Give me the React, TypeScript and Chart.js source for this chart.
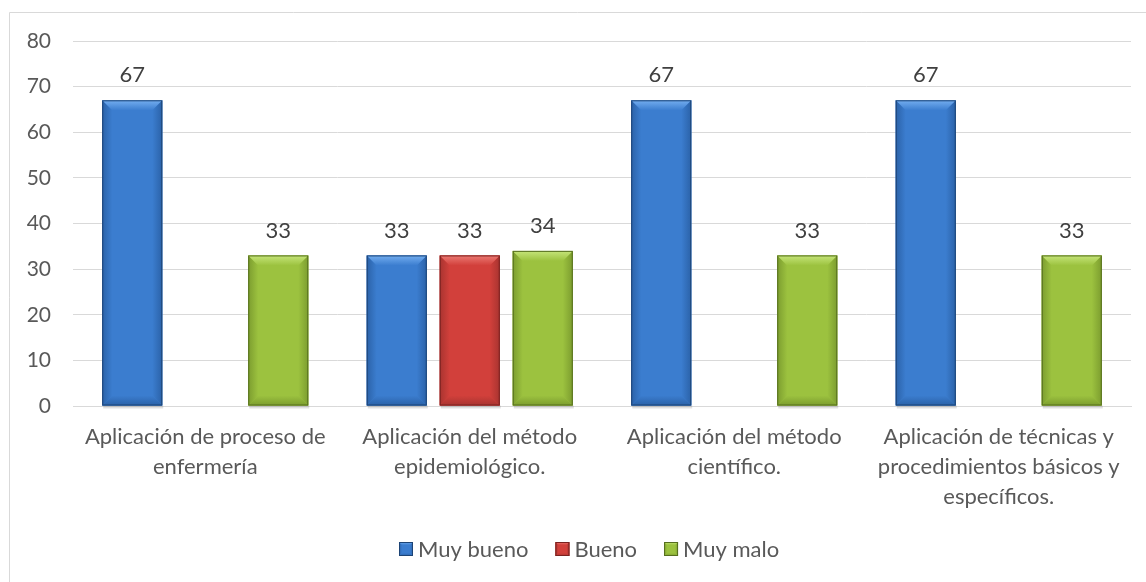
import React, { useEffect, useRef } from 'react';
import { Chart, registerables } from 'chart.js';

Chart.register(...registerables);

const categories: string[][] = [
  ['Aplicación de proceso de', 'enfermería'],
  ['Aplicación del método', 'epidemiológico.'],
  ['Aplicación del método', 'científico.'],
  ['Aplicación de técnicas y', 'procedimientos básicos y', 'específicos.'],
];
const seriesNames = ['Muy bueno', 'Bueno', 'Muy malo'];
const muyBueno: (number | null)[] = [67, 33, 67, 67];
const bueno: (number | null)[] = [null, 33, null, null];
const muyMalo: (number | null)[] = [33, 34, 33, 33];
const yMin = 0;
const yMax = 80;
const yStep = 10;

const FONT = 'Lato, "Open Sans", sans-serif';

const palettes = [
  { main: '#3b7dcf', light: '#74aef0', dark: '#2b62a8', edge: '#1d4475' },
  { main: '#d2403b', light: '#ec7a74', dark: '#a83430', edge: '#7a2220' },
  { main: '#9cc23f', light: '#c6e57a', dark: '#7c9d2f', edge: '#566e1f' },
];

const framePlugin = {
  id: 'frame',
  beforeDraw(chart: any) {
    const ctx = chart.ctx;
    ctx.save();
    ctx.fillStyle = '#ffffff';
    ctx.fillRect(0, 0, chart.width, chart.height);
    ctx.strokeStyle = '#d9d9d9';
    ctx.lineWidth = 1;
    ctx.beginPath();
    ctx.moveTo(9.5, chart.height);
    ctx.lineTo(9.5, 12.5);
    ctx.lineTo(chart.width, 12.5);
    ctx.stroke();
    ctx.restore();
  },
};

function bevelRect(ctx: any, l: number, t: number, w: number, h: number, pal: any, bw: number) {
  const r = l + w;
  const b = t + h;
  ctx.fillStyle = pal.main;
  ctx.fillRect(l, t, w, h);
  // left strip
  let g = ctx.createLinearGradient(l, 0, l + bw, 0);
  g.addColorStop(0, pal.dark);
  g.addColorStop(1, pal.main);
  ctx.fillStyle = g;
  ctx.beginPath();
  ctx.moveTo(l, t);
  ctx.lineTo(l + bw, t + bw);
  ctx.lineTo(l + bw, b - bw);
  ctx.lineTo(l, b);
  ctx.closePath();
  ctx.fill();
  // right strip
  g = ctx.createLinearGradient(r, 0, r - bw, 0);
  g.addColorStop(0, pal.dark);
  g.addColorStop(1, pal.main);
  ctx.fillStyle = g;
  ctx.beginPath();
  ctx.moveTo(r, t);
  ctx.lineTo(r - bw, t + bw);
  ctx.lineTo(r - bw, b - bw);
  ctx.lineTo(r, b);
  ctx.closePath();
  ctx.fill();
  // bottom strip
  g = ctx.createLinearGradient(0, b, 0, b - bw);
  g.addColorStop(0, pal.dark);
  g.addColorStop(1, pal.main);
  ctx.fillStyle = g;
  ctx.beginPath();
  ctx.moveTo(l, b);
  ctx.lineTo(l + bw, b - bw);
  ctx.lineTo(r - bw, b - bw);
  ctx.lineTo(r, b);
  ctx.closePath();
  ctx.fill();
  // top strip (light)
  g = ctx.createLinearGradient(0, t, 0, t + bw);
  g.addColorStop(0, pal.light);
  g.addColorStop(1, pal.main);
  ctx.fillStyle = g;
  ctx.beginPath();
  ctx.moveTo(l, t);
  ctx.lineTo(r, t);
  ctx.lineTo(r - bw, t + bw);
  ctx.lineTo(l + bw, t + bw);
  ctx.closePath();
  ctx.fill();
  // outline
  ctx.strokeStyle = pal.edge;
  ctx.lineWidth = 1;
  ctx.strokeRect(l + 0.5, t + 0.5, w - 1, h - 1);
}

const bevelPlugin = {
  id: 'bevel',
  afterDatasetsDraw(chart: any) {
    const ctx = chart.ctx;
    chart.data.datasets.forEach((ds: any, di: number) => {
      const meta = chart.getDatasetMeta(di);
      if (meta.hidden) return;
      const pal = palettes[di];
      meta.data.forEach((el: any, i: number) => {
        const v = ds.data[i];
        if (v == null) return;
        const { x, y, base, width } = el.getProps(['x', 'y', 'base', 'width'], true);
        const l = x - width / 2;
        const t = y;
        const h = base - y;
        const bw = Math.min(10, width / 5, h / 3);
        ctx.save();
        ctx.fillStyle = 'rgba(0,0,0,0.12)';
        ctx.fillRect(l + 1, base, width, 3);
        bevelRect(ctx, l, t, width, h, pal, bw);
        ctx.fillStyle = '#404040';
        ctx.font = '22px ' + FONT;
        ctx.textAlign = 'center';
        ctx.textBaseline = 'middle';
        ctx.fillText(String(v), x, t - 25);
        ctx.restore();
      });
    });
  },
};

const legendPlugin = {
  id: 'customLegend',
  afterDraw(chart: any) {
    const ctx = chart.ctx;
    ctx.save();
    ctx.font = '22px ' + FONT;
    ctx.textBaseline = 'middle';
    ctx.textAlign = 'left';
    const box = 14;
    const gapText = 5;
    const gapItem = 27;
    const items = chart.data.datasets.map((ds: any, i: number) => ({
      text: ds.label,
      w: ctx.measureText(ds.label).width,
      pal: palettes[i],
    }));
    const total = items.reduce((s: number, it: any) => s + box + gapText + it.w, 0) + gapItem * (items.length - 1);
    const cy = 549;
    let x = Math.round(589 - total / 2);
    items.forEach((it: any) => {
      bevelRect(ctx, x, cy - box / 2, box, box, it.pal, 3);
      ctx.fillStyle = '#595959';
      ctx.fillText(it.text, x + box + gapText, cy + 1);
      x += box + gapText + it.w + gapItem;
    });
    ctx.restore();
  },
};

export default function App() {
  const ref = useRef<HTMLCanvasElement | null>(null);
  useEffect(() => {
    if (!ref.current) return;
    const series = [muyBueno, bueno, muyMalo];
    const chart = new Chart(ref.current, {
      type: 'bar',
      data: {
        labels: categories,
        datasets: series.map((d, i) => ({
          label: seriesNames[i],
          data: d,
          backgroundColor: palettes[i].main,
          borderColor: palettes[i].edge,
          borderWidth: 0,
          categoryPercentage: 0.828,
          barPercentage: 0.822,
        })),
      },
      options: {
        responsive: false,
        animation: false,
        layout: { padding: { left: 0, right: 15, top: 41, bottom: 51 } },
        plugins: {
          legend: { display: false },
          tooltip: { enabled: false },
        },
        scales: {
          x: {
            grid: { display: false, drawTicks: false },
            border: { display: true, color: '#d9d9d9', width: 1 },
            ticks: {
              color: '#595959',
              font: { family: FONT, size: 22, lineHeight: '30px' },
              padding: 16,
              maxRotation: 0,
              autoSkip: false,
            },
            afterFit: (axis: any) => {
              axis.height = 125;
            },
          },
          y: {
            min: yMin,
            max: yMax,
            ticks: {
              stepSize: yStep,
              color: '#595959',
              font: { family: FONT, size: 21 },
              padding: 22,
            },
            grid: { color: '#d9d9d9', drawTicks: false, lineWidth: 1 },
            border: { display: false },
            afterFit: (axis: any) => {
              axis.width = 73;
            },
          },
        },
      },
      plugins: [framePlugin, bevelPlugin, legendPlugin],
    });
    return () => chart.destroy();
  }, []);
  return (
    <div style={{ position: 'absolute', left: 0, top: 0, width: 1146, height: 582 }}>
      <canvas ref={ref} width={1146} height={582} style={{ display: 'block' }} />
    </div>
  );
}
